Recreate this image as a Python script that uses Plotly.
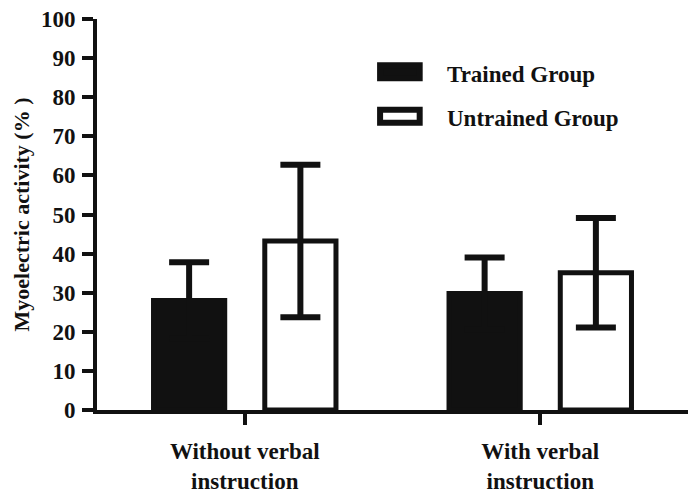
import plotly.graph_objects as go

# Mean myoelectric activity (%) with standard deviations
conditions = ["Without verbal instruction", "With verbal instruction"]
condition_labels = ["Without verbal<br>instruction", "With verbal<br>instruction"]
trained_mean = [28.0, 29.8]
trained_sd = [9.8, 9.2]
untrained_mean = [43.2, 35.1]
untrained_sd = [19.5, 14.0]
y_ticks = [0, 10, 20, 30, 40, 50, 60, 70, 80, 90, 100]

FONT = "Liberation Serif"
BLACK = "#111111"
LW = 4
BAR_LW = 5

fig = go.Figure()
fig.add_trace(go.Bar(
    name="Trained Group", x=conditions, y=trained_mean,
    marker=dict(color=BLACK, line=dict(color=BLACK, width=BAR_LW)),
    error_y=dict(type="data", array=trained_sd, visible=True,
                 color=BLACK, thickness=6, width=20),
))
fig.add_trace(go.Bar(
    name="Untrained Group", x=conditions, y=untrained_mean,
    marker=dict(color="white", line=dict(color=BLACK, width=BAR_LW)),
    error_y=dict(type="data", array=untrained_sd, visible=True,
                 color=BLACK, thickness=6, width=20),
))

fig.update_layout(
    width=697, height=493,
    margin=dict(l=97, r=9, t=19, b=83),
    paper_bgcolor="white", plot_bgcolor="white",
    barmode="group", bargap=0.247, bargroupgap=0.36,
    showlegend=False,
    font=dict(family=FONT, color=BLACK),
)
fig.update_xaxes(
    type="category", range=[-0.5, 1.5], automargin=False,
    tickvals=conditions, ticktext=condition_labels,
    ticks="outside", ticklen=11, tickwidth=LW, tickcolor=BLACK,
    showline=True, linecolor=BLACK, linewidth=LW,
    showgrid=False, zeroline=False, ticklabelstandoff=6,
    tickfont=dict(family=FONT, size=23, color=BLACK, weight="bold"),
)
fig.update_yaxes(
    range=[0, 100], tickvals=y_ticks, automargin=False,
    ticks="outside", ticklen=11, tickwidth=LW, tickcolor=BLACK,
    showline=True, linecolor=BLACK, linewidth=LW,
    showgrid=False, zeroline=False, ticklabelstandoff=2,
    tickfont=dict(family=FONT, size=23, color=BLACK, weight="bold"),
    title=dict(text="Myoelectric activity (% )", standoff=6,
               font=dict(family=FONT, size=22, color=BLACK, weight="bold")),
)

# Legend drawn as wide swatches with labels
legend_rows = [("Trained Group", BLACK, 0.865), ("Untrained Group", "white", 0.751)]
for label, fill, yc in legend_rows:
    fig.add_shape(type="rect", xref="paper", yref="paper",
                  x0=0.479, x1=0.546, y0=yc - 0.0166, y1=yc + 0.0166,
                  fillcolor=fill, line=dict(color=BLACK, width=6))
    fig.add_annotation(xref="paper", yref="paper", x=0.589, y=yc - 0.006,
                       text=label, showarrow=False, xanchor="left", yanchor="middle",
                       font=dict(family=FONT, size=23, color=BLACK, weight="bold"))

fig.write_html("out.html")
